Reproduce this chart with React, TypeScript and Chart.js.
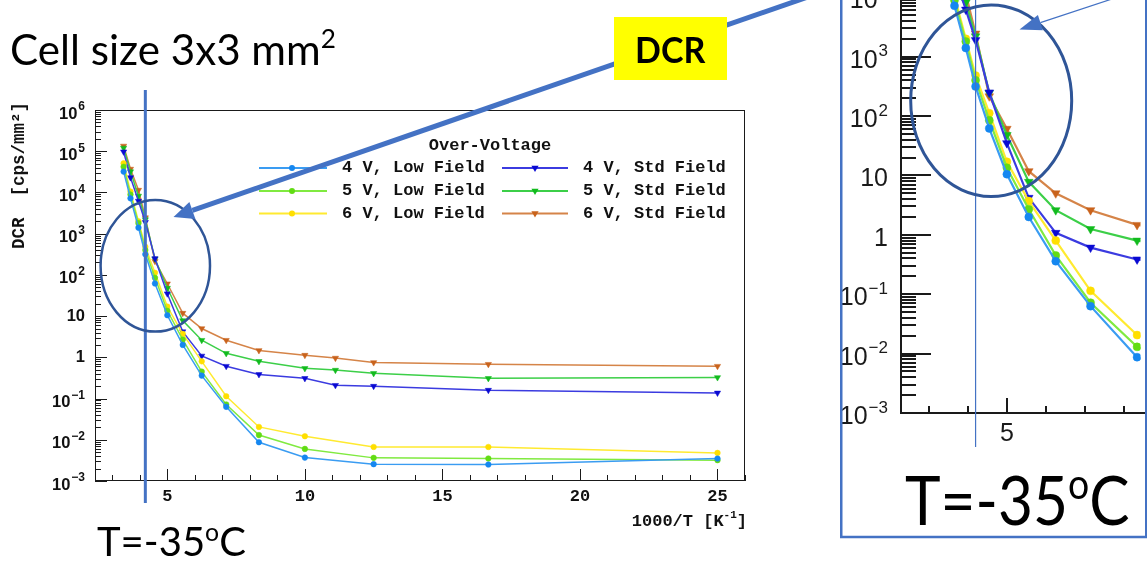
import React, { useEffect, useRef } from 'react';
import { Chart, registerables } from 'chart.js';

Chart.register(...registerables);

// ---------------- data ----------------
const X_LOW_FIELD = [3.41, 3.66, 3.95, 4.2, 4.55, 5.0, 5.56, 6.25, 7.14, 8.33, 10.0, 12.5, 16.67, 25.0];
const X_STD_FIELD = [3.41, 3.66, 3.95, 4.2, 4.55, 5.0, 5.56, 6.25, 7.14, 8.33, 10.0, 11.11, 12.5, 16.67, 25.0];

const LOW_4V = [3.2e4, 7.2e3, 1.4e3, 316, 62, 10.5, 2.0, 0.36, 0.063, 0.0087, 0.0037, 0.00256, 0.00251, 0.0035];
const LOW_5V = [4.2e4, 8.9e3, 1.8e3, 400, 85, 13.5, 2.7, 0.45, 0.072, 0.013, 0.006, 0.00364, 0.00352, 0.0032];
const LOW_6V = [5.1e4, 1.05e4, 2.0e3, 480, 112, 17, 3.7, 0.8, 0.114, 0.0205, 0.0122, 0.0067, 0.0067, 0.0048];
const STD_4V = [9.7e4, 2.3e4, 6.2e3, 1.9e3, 250, 35, 4.2, 1.08, 0.61, 0.385, 0.31, 0.21, 0.2, 0.16, 0.137];
const STD_5V = [1.2e5, 3.2e4, 8.2e3, 2.2e3, 245, 48, 7.8, 2.6, 1.25, 0.8, 0.54, 0.49, 0.41, 0.31, 0.325];
const STD_6V = [1.34e5, 3.7e4, 1.14e4, 2.45e3, 215, 61, 11.8, 5.0, 2.6, 1.47, 1.13, 0.96, 0.75, 0.68, 0.61];

const SERIES_LABELS = ['4 V, Low Field', '5 V, Low Field', '6 V, Low Field', '4 V, Std Field', '5 V, Std Field', '6 V, Std Field'];
const LEGEND_TITLE = 'Over-Voltage';
const Y_TICK_EXPONENTS = [-3, -2, -1, 0, 1, 2, 3, 4, 5, 6];
const X_TICK_LABELS = [5, 10, 15, 20, 25];
const INSET_X_TICK_LABELS = [5];
const T_LINE_X = 4.2;
const Y_TITLE = 'DCR  [cps/mm\u00B2]';
const X_TITLE = ['1000/T [K', '-1', ']'];

// ---------------- styles ----------------
const LINE_COLORS = ['#3a9cf2', '#80ea40', '#ffea30', '#3b3be0', '#3ccf48', '#d58448'];
const MARKER_COLORS = ['#1587f0', '#62dc14', '#ffdf00', '#0a0ad2', '#12bb1e', '#c9631c'];
const MONO = '"Liberation Mono", "DejaVu Sans Mono", monospace';
const SANS = '"Liberation Sans", Arial, sans-serif';
const SLIDE_BLUE = '#4472C4';
const CIRCLE_BLUE = '#2F5597';

function seg(ctx: CanvasRenderingContext2D, x1: number, y1: number, x2: number, y2: number) {
  ctx.beginPath();
  ctx.moveTo(x1, y1);
  ctx.lineTo(x2, y2);
  ctx.stroke();
}

function drawPow(ctx: CanvasRenderingContext2D, e: number, xr: number, yc: number, base: number, sup: number, raise: number, dyPow: number, dyPlain: number, weight: string) {
  ctx.textBaseline = 'middle';
  if (e === 0 || e === 1) {
    ctx.font = `${weight} ${base}px ${SANS}`;
    ctx.textAlign = 'right';
    ctx.fillText(e === 0 ? '1' : '10', xr, yc + dyPlain);
    return;
  }
  const s = e < 0 ? '\u2212' + String(-e) : String(e);
  ctx.textAlign = 'left';
  ctx.font = `${weight} ${sup}px ${SANS}`;
  const ws = ctx.measureText(s).width;
  ctx.font = `${weight} ${base}px ${SANS}`;
  const wb = ctx.measureText('10').width;
  ctx.fillText('10', xr - ws - wb - 1, yc + dyPow);
  ctx.font = `${weight} ${sup}px ${SANS}`;
  ctx.fillText(s, xr - ws, yc + dyPow - raise);
}

function drawMarker(ctx: CanvasRenderingContext2D, kind: number, x: number, y: number, r: number, color: string) {
  ctx.fillStyle = color;
  ctx.beginPath();
  if (kind === 0) {
    ctx.arc(x, y, r, 0, Math.PI * 2);
  } else {
    ctx.moveTo(x - r, y - r * 0.6);
    ctx.lineTo(x + r, y - r * 0.6);
    ctx.lineTo(x, y + r * 1.1);
    ctx.closePath();
  }
  ctx.fill();
}

type Geo = {
  width: number; height: number; padTop: number; padRight: number; yAxisW: number; xAxisH: number;
  xMin: number; xMax: number; lineW: number; circleR: number; triR: number;
};

const MAIN_GEO: Geo = { width: 760, height: 440, padTop: 20, padRight: 15, yAxisW: 95, xAxisH: 49, xMin: 2.37, xMax: 26.0, lineW: 1.5, circleR: 2.8, triR: 3.6 };
const INSET_GEO: Geo = { width: 304, height: 664, padTop: 0, padRight: 0, yAxisW: 59, xAxisH: 124, xMin: 2.2925, xMax: 8.4175, lineW: 2.2, circleR: 4, triR: 5 };

function buildDatasets(g: Geo) {
  const xs = [X_LOW_FIELD, X_LOW_FIELD, X_LOW_FIELD, X_STD_FIELD, X_STD_FIELD, X_STD_FIELD];
  const ys = [LOW_4V, LOW_5V, LOW_6V, STD_4V, STD_5V, STD_6V];
  return ys.map((vals, i) => ({
    label: SERIES_LABELS[i],
    data: vals.map((v, j) => ({ x: xs[i][j], y: v })),
    borderColor: LINE_COLORS[i],
    backgroundColor: MARKER_COLORS[i],
    pointBackgroundColor: MARKER_COLORS[i],
    pointBorderColor: MARKER_COLORS[i],
    pointBorderWidth: 0.5,
    pointStyle: i < 3 ? 'circle' : 'triangle',
    pointRotation: i < 3 ? 0 : 180,
    pointRadius: i < 3 ? g.circleR : g.triR,
    borderWidth: g.lineW,
    tension: 0,
    fill: false,
  }));
}

const mainDecor = {
  id: 'mainDecor',
  beforeDatasetsDraw(chart: any) {
    const { ctx, chartArea: a } = chart;
    const x = chart.scales.x;
    const y = chart.scales.y;
    ctx.save();
    ctx.strokeStyle = '#1a1a1a';
    ctx.lineWidth = 1;
    ctx.strokeRect(a.left + 0.5, a.top + 0.5, a.right - a.left - 1, a.bottom - a.top - 1);
    for (let v = 3; v <= 26; v++) {
      const px = Math.round(x.getPixelForValue(v)) + 0.5;
      seg(ctx, px, a.bottom, px, a.bottom - (v % 5 === 0 ? 12 : 6));
    }
    for (let e = -3; e <= 6; e++) {
      const py = Math.round(y.getPixelForValue(Math.pow(10, e))) + 0.5;
      seg(ctx, a.left, py, a.left + 12, py);
      if (e < 6) {
        for (let m = 2; m <= 9; m++) {
          const pm = Math.round(y.getPixelForValue(m * Math.pow(10, e))) + 0.5;
          seg(ctx, a.left, pm, a.left + 6, pm);
        }
      }
    }
    ctx.fillStyle = '#111';
    ctx.font = `bold 17px ${MONO}`;
    ctx.textAlign = 'center';
    ctx.textBaseline = 'middle';
    X_TICK_LABELS.forEach((v) => ctx.fillText(String(v), x.getPixelForValue(v), a.bottom + 16));
    Y_TICK_EXPONENTS.forEach((e) => drawPow(ctx, e, 85, y.getPixelForValue(Math.pow(10, e)), 16.5, 12, 7, 4, 0, 'bold'));
    // y title
    ctx.save();
    ctx.translate(20, 12);
    ctx.rotate(-Math.PI / 2);
    ctx.font = `bold 17.5px ${MONO}`;
    ctx.textAlign = 'right';
    ctx.textBaseline = 'middle';
    ctx.fillText(Y_TITLE, 0, 0);
    ctx.restore();
    // x title
    ctx.textAlign = 'left';
    ctx.textBaseline = 'middle';
    ctx.font = `bold 17px ${MONO}`;
    const w1 = ctx.measureText(X_TITLE[0]).width;
    const w3 = ctx.measureText(X_TITLE[2]).width;
    ctx.font = `bold 11px ${MONO}`;
    const w2 = ctx.measureText(X_TITLE[1]).width;
    const x0 = 747 - (w1 + w2 + w3);
    const ty = 432;
    ctx.font = `bold 17px ${MONO}`;
    ctx.fillText(X_TITLE[0], x0, ty);
    ctx.fillText(X_TITLE[2], x0 + w1 + w2, ty);
    ctx.font = `bold 11px ${MONO}`;
    ctx.fillText(X_TITLE[1], x0 + w1, ty - 7);
    ctx.restore();
  },
  afterDatasetsDraw(chart: any) {
    const { ctx } = chart;
    const x = chart.scales.x;
    ctx.save();
    // T = -35 C line
    ctx.strokeStyle = SLIDE_BLUE;
    ctx.lineWidth = 3;
    const tx = x.getPixelForValue(T_LINE_X);
    seg(ctx, tx, 0, tx, 413);
    // legend
    ctx.fillStyle = '#111';
    ctx.font = `bold 17px ${MONO}`;
    ctx.textBaseline = 'middle';
    ctx.textAlign = 'center';
    ctx.fillText(LEGEND_TITLE, 490, 56);
    ctx.textAlign = 'left';
    const rows = [78, 101, 123.5];
    const ds = chart.data.datasets;
    for (let i = 0; i < 6; i++) {
      const col = i < 3 ? 0 : 1;
      const ry = rows[i % 3];
      const lx0 = col === 0 ? 259 : 502;
      const lx1 = col === 0 ? 327 : 568;
      const mx = col === 0 ? 292 : 535;
      const tx0 = col === 0 ? 342 : 583;
      ctx.strokeStyle = ds[i].borderColor;
      ctx.lineWidth = 2;
      seg(ctx, lx0, ry, lx1, ry);
      drawMarker(ctx, col, mx, ry, col === 0 ? 3 : 3.6, ds[i].pointBackgroundColor);
      ctx.fillStyle = '#111';
      ctx.fillText(ds[i].label, tx0, ry);
    }
    ctx.restore();
  },
};

const insetDecor = {
  id: 'insetDecor',
  beforeDatasetsDraw(chart: any) {
    const { ctx, chartArea: a } = chart;
    const x = chart.scales.x;
    const y = chart.scales.y;
    ctx.save();
    ctx.strokeStyle = '#1a1a1a';
    ctx.lineWidth = 2;
    seg(ctx, a.left, a.top - 5, a.left, a.bottom + 1);
    seg(ctx, a.left - 1, a.bottom, a.right + 5, a.bottom);
    for (let v = 3; v <= 8; v++) {
      const px = Math.round(x.getPixelForValue(v));
      seg(ctx, px, a.bottom, px, a.bottom - (v % 5 === 0 ? 15 : 7));
    }
    for (let e = -3; e <= 6; e++) {
      const py = Math.round(y.getPixelForValue(Math.pow(10, e)));
      seg(ctx, a.left, py, a.left + 30, py);
      if (e < 6) {
        for (let m = 2; m <= 9; m++) {
          const pm = Math.round(y.getPixelForValue(m * Math.pow(10, e)));
          seg(ctx, a.left, pm, a.left + 15, pm);
        }
      }
    }
    ctx.fillStyle = '#1a1a1a';
    ctx.font = `25px ${SANS}`;
    ctx.textAlign = 'center';
    ctx.textBaseline = 'middle';
    INSET_X_TICK_LABELS.forEach((v) => ctx.fillText(String(v), x.getPixelForValue(v), a.bottom + 21));
    Y_TICK_EXPONENTS.forEach((e) => drawPow(ctx, e, 46, y.getPixelForValue(Math.pow(10, e)), 25, 17, 9, 4, 4, 'normal'));
    ctx.restore();
  },
  afterDatasetsDraw(chart: any) {
    const { ctx } = chart;
    const x = chart.scales.x;
    ctx.save();
    ctx.strokeStyle = SLIDE_BLUE;
    ctx.lineWidth = 1.2;
    const tx = x.getPixelForValue(T_LINE_X);
    seg(ctx, tx, 127, tx, 574);
    ctx.restore();
  },
};

function makeConfig(g: Geo, decor: any): any {
  return {
    type: 'line',
    data: { datasets: buildDatasets(g) },
    options: {
      animation: false,
      responsive: false,
      maintainAspectRatio: false,
      devicePixelRatio: 1,
      layout: { padding: { top: g.padTop, right: g.padRight, left: 0, bottom: 0 } },
      scales: {
        x: {
          type: 'linear',
          min: g.xMin,
          max: g.xMax,
          grid: { display: false },
          border: { display: false },
          ticks: { display: false },
          afterFit: (s: any) => { s.height = g.xAxisH; },
        },
        y: {
          type: 'logarithmic',
          min: 1e-3,
          max: 1e6,
          grid: { display: false },
          border: { display: false },
          ticks: { display: false },
          afterFit: (s: any) => { s.width = g.yAxisW; },
        },
      },
      plugins: { legend: { display: false }, tooltip: { enabled: false }, title: { display: false } },
    },
    plugins: [decor],
  };
}

export default function App() {
  const mainRef = useRef<HTMLCanvasElement>(null);
  const insetRef = useRef<HTMLCanvasElement>(null);

  useEffect(() => {
    const c1 = new Chart(mainRef.current as HTMLCanvasElement, makeConfig(MAIN_GEO, mainDecor));
    const c2 = new Chart(insetRef.current as HTMLCanvasElement, makeConfig(INSET_GEO, insetDecor));
    return () => {
      c1.destroy();
      c2.destroy();
    };
  }, []);

  const sup: React.CSSProperties = { fontSize: '0.62em', position: 'relative', top: '-0.62em' };
  const txt = 'Lato, "Open Sans", sans-serif';

  return (
    <div style={{ position: 'fixed', left: 0, top: 0, width: 1147, height: 563, background: '#fff', overflow: 'hidden' }}>
      <canvas ref={mainRef} width={MAIN_GEO.width} height={MAIN_GEO.height}
        style={{ position: 'absolute', left: 0, top: 90, width: MAIN_GEO.width, height: MAIN_GEO.height }} />
      <canvas ref={insetRef} width={INSET_GEO.width} height={INSET_GEO.height}
        style={{ position: 'absolute', left: 842, top: -127, width: INSET_GEO.width, height: INSET_GEO.height }} />
      <svg width={1147} height={563} style={{ position: 'absolute', left: 0, top: 0 }}>
        <rect x={841.25} y={-10} width={305} height={547} fill="none" stroke={SLIDE_BLUE} strokeWidth={2.5} />
        <ellipse cx={155.3} cy={265.8} rx={54.7} ry={65.8} fill="none" stroke={CIRCLE_BLUE} strokeWidth={2.5} />
        <ellipse cx={991.2} cy={100.8} rx={80.5} ry={95.8} fill="none" stroke={CIRCLE_BLUE} strokeWidth={3} />
        <line x1={828} y1={-10} x2={192.4} y2={210.4} stroke={SLIDE_BLUE} strokeWidth={5} />
        <polygon points="173.5,217 195.4,218.9 189.4,201.9" fill={SLIDE_BLUE} />
        <line x1={1115} y1={-2} x2={1040.4} y2={22.6} stroke={SLIDE_BLUE} strokeWidth={1.2} />
        <polygon points="1019.5,29.5 1042.9,30.2 1037.9,15.0" fill={SLIDE_BLUE} />
      </svg>
      <div style={{ position: 'absolute', left: 10, top: 27, font: `43px ${txt}`, lineHeight: 1, color: '#000', whiteSpace: 'nowrap', transform: 'scaleX(0.98)', transformOrigin: 'left top' }}>
        Cell size 3x3 mm<span style={sup}>2</span>
      </div>
      <div style={{ position: 'absolute', left: 614, top: 17, width: 113, height: 63, background: '#FFFF00', display: 'flex', alignItems: 'center', justifyContent: 'center', font: `bold 37px ${txt}`, color: '#000' }}>
        <span style={{ display: 'inline-block', transform: 'scaleX(0.92)' }}>DCR</span>
      </div>
      <div style={{ position: 'absolute', left: 97, top: 521.4, font: `40px ${txt}`, lineHeight: 1, color: '#000', whiteSpace: 'nowrap' }}>
        T=-35<span style={sup}>o</span>C
      </div>
      <div style={{ position: 'absolute', left: 905, top: 465.6, font: `67px ${txt}`, lineHeight: 1, color: '#000', whiteSpace: 'nowrap', transform: 'scaleX(0.9)', transformOrigin: 'left top' }}>
        T=-35<span style={sup}>o</span>C
      </div>
    </div>
  );
}
